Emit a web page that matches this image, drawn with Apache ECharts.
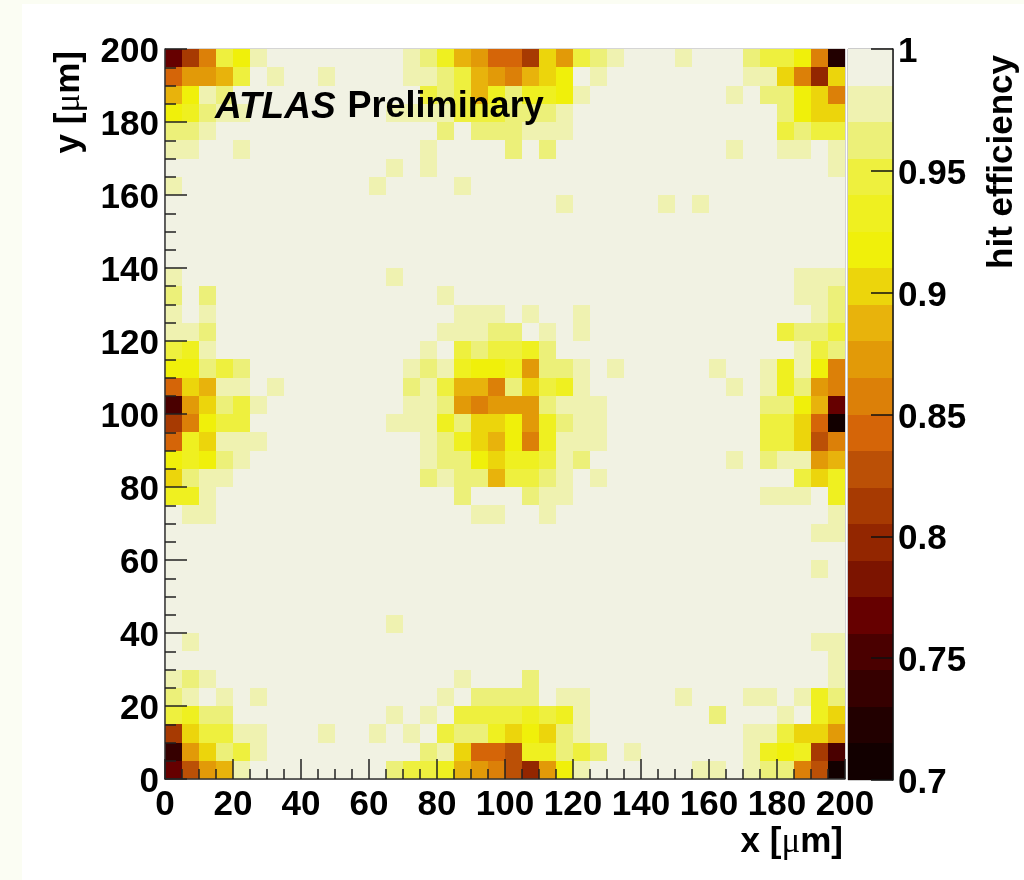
<!DOCTYPE html>
<html><head><meta charset="utf-8">
<style>html,body{margin:0;padding:0;background:#fff}#c{width:1024px;height:880px}</style>
<script src="https://cdn.jsdelivr.net/npm/echarts@6/dist/echarts.min.js"></script>
</head><body><div id="c"></div>
<script>
// Hit efficiency in percent, one array per 5 um row, named by lower y edge; x runs 0..200 in 5 um bins.
const y195=[77,81,86,95,92,98,99,99,99,99,99,99,99,99,98,96,93,89,87,84,84,81,90,87,95,96,98,99,99,99,98,99,99,99,96,95,95,92,86,72];
const y190=[84,87,87,89,95,99,98,99,99,98,99,99,99,99,98,98,96,95,89,87,86,89,90,92,99,98,99,99,99,99,99,99,99,99,98,98,90,86,80,90];
const y185=[89,92,98,96,99,99,99,99,99,99,99,99,99,99,99,95,96,95,89,93,96,93,93,92,98,99,99,99,99,99,99,99,99,98,99,96,96,92,90,86];
const y180=[92,93,96,98,98,99,99,99,99,99,99,99,99,98,98,98,98,95,95,95,96,96,96,98,99,99,99,99,99,99,99,99,99,99,99,99,96,92,90,90];
const y175=[96,96,98,99,99,99,99,99,99,99,99,99,99,99,99,99,96,99,96,96,96,98,98,98,99,99,99,99,99,99,99,99,99,99,99,99,95,96,95,95];
const y170=[98,98,99,99,98,99,99,99,99,99,99,99,99,99,99,98,99,99,99,99,96,99,96,99,99,99,99,99,99,99,99,99,99,98,99,99,98,98,99,98];
const y165=[99,99,99,99,99,99,99,99,99,99,99,99,99,98,99,98,99,99,99,99,99,99,99,99,99,99,99,99,99,99,99,99,99,99,99,99,99,99,99,98];
const y160=[98,99,99,99,99,99,99,99,99,99,99,99,98,99,99,99,99,98,99,99,99,99,99,99,99,99,99,99,99,99,99,99,99,99,99,99,99,99,99,99];
const y155=[99,99,99,99,99,99,99,99,99,99,99,99,99,99,99,99,99,99,99,99,99,99,99,98,99,99,99,99,99,98,99,98,99,99,99,99,99,99,99,99];
const y150=[99,99,99,99,99,99,99,99,99,99,99,99,99,99,99,99,99,99,99,99,99,99,99,99,99,99,99,99,99,99,99,99,99,99,99,99,99,99,99,99];
const y145=[99,99,99,99,99,99,99,99,99,99,99,99,99,99,99,99,99,99,99,99,99,99,99,99,99,99,99,99,99,99,99,99,99,99,99,99,99,99,99,99];
const y140=[99,99,99,99,99,99,99,99,99,99,99,99,99,99,99,99,99,99,99,99,99,99,99,99,99,99,99,99,99,99,99,99,99,99,99,99,99,99,99,99];
const y135=[98,99,99,99,99,99,99,99,99,99,99,99,99,98,99,99,99,99,99,99,99,99,99,99,99,99,99,99,99,99,99,99,99,99,99,99,99,98,98,98];
const y130=[96,99,96,99,99,99,99,99,99,99,99,99,99,99,99,99,98,99,99,99,99,99,99,99,99,99,99,99,99,99,99,99,99,99,99,99,99,98,98,96];
const y125=[98,99,98,99,99,99,99,99,99,99,99,99,99,99,99,99,99,98,98,98,99,98,99,99,98,99,99,99,99,99,99,99,99,99,99,99,99,99,98,96];
const y120=[98,98,96,99,99,99,99,99,99,99,99,99,99,99,99,99,98,98,98,96,96,99,98,99,98,99,99,99,99,99,99,99,99,99,99,99,95,96,96,95];
const y115=[95,93,98,99,99,99,99,99,99,99,99,99,99,99,99,98,99,95,96,95,95,93,96,99,99,99,99,99,99,99,99,99,99,99,99,99,99,98,95,96];
const y110=[92,92,96,95,96,99,99,99,99,99,99,99,99,99,98,96,98,93,92,92,93,87,96,96,98,99,98,99,99,99,99,99,98,99,99,98,93,98,92,86];
const y105=[84,90,89,98,98,99,98,99,99,99,99,99,99,99,96,98,95,89,89,86,96,90,95,93,98,99,99,99,99,99,99,99,99,98,99,98,93,96,87,86];
const y100=[75,87,90,96,95,98,99,99,99,99,99,99,99,99,98,98,96,87,86,87,87,87,96,98,98,98,99,99,99,99,99,99,99,99,99,96,96,92,89,77];
const y95=[81,86,92,95,95,99,99,99,99,99,99,99,99,98,98,98,93,96,90,90,92,87,93,96,98,98,99,99,99,99,99,99,99,99,99,95,95,90,84,71];
const y90=[84,93,90,98,98,98,99,99,99,99,99,99,99,99,99,98,96,93,90,89,92,86,93,98,98,98,99,99,99,99,99,99,99,99,99,95,95,90,83,86];
const y85=[92,93,92,96,98,99,99,99,99,99,99,99,99,99,99,98,96,96,92,90,93,93,95,98,96,99,99,99,99,99,99,99,99,98,99,96,98,98,87,89];
const y80=[90,96,98,98,99,99,99,99,99,99,99,99,99,99,99,96,98,96,96,89,95,95,96,98,99,98,99,99,99,99,99,99,99,99,99,99,99,95,90,93];
const y75=[93,93,98,99,99,99,99,99,99,99,99,99,99,99,99,99,99,96,99,99,99,96,98,98,99,99,99,99,99,99,99,99,99,99,99,98,98,98,99,93];
const y70=[99,98,98,99,99,99,99,99,99,99,99,99,99,99,99,99,99,99,98,98,99,99,98,99,99,99,99,99,99,99,99,99,99,99,99,99,99,99,99,98];
const y65=[99,99,99,99,99,99,99,99,99,99,99,99,99,99,99,99,99,99,99,99,99,99,99,99,99,99,99,99,99,99,99,99,99,99,99,99,99,99,98,98];
const y60=[99,99,99,99,99,99,99,99,99,99,99,99,99,99,99,99,99,99,99,99,99,99,99,99,99,99,99,99,99,99,99,99,99,99,99,99,99,99,99,99];
const y55=[99,99,99,99,99,99,99,99,99,99,99,99,99,99,99,99,99,99,99,99,99,99,99,99,99,99,99,99,99,99,99,99,99,99,99,99,99,99,98,99];
const y50=[99,99,99,99,99,99,99,99,99,99,99,99,99,99,99,99,99,99,99,99,99,99,99,99,99,99,99,99,99,99,99,99,99,99,99,99,99,99,99,99];
const y45=[99,99,99,99,99,99,99,99,99,99,99,99,99,99,99,99,99,99,99,99,99,99,99,99,99,99,99,99,99,99,99,99,99,99,99,99,99,99,99,99];
const y40=[99,99,99,99,99,99,99,99,99,99,99,99,99,98,99,99,99,99,99,99,99,99,99,99,99,99,99,99,99,99,99,99,99,99,99,99,99,99,99,99];
const y35=[99,98,99,99,99,99,99,99,99,99,99,99,99,99,99,99,99,99,99,99,99,99,99,99,99,99,99,99,99,99,99,99,99,99,99,99,99,99,98,98];
const y30=[99,99,99,99,99,99,99,99,99,99,99,99,99,99,99,99,99,99,99,99,99,99,99,99,99,99,99,99,99,99,99,99,99,99,99,99,99,99,99,98];
const y25=[98,96,98,99,99,99,99,99,99,99,99,99,99,99,99,99,99,98,99,99,99,96,99,99,99,99,99,99,99,99,99,99,99,99,99,99,99,99,99,98];
const y20=[96,98,99,98,99,98,99,99,99,99,99,99,99,99,99,99,98,99,96,96,96,96,99,98,98,99,99,99,99,99,98,99,99,99,98,98,99,98,93,96];
const y15=[95,93,96,96,99,99,99,99,99,99,99,99,99,98,99,98,99,95,95,95,95,93,95,93,98,99,99,99,99,99,99,99,96,99,99,99,98,99,93,90];
const y10=[81,90,95,95,98,98,99,99,99,98,99,99,98,99,98,99,95,96,96,93,90,92,90,96,98,99,99,99,99,99,99,99,99,99,98,98,95,90,90,87];
const y5=[74,87,90,96,95,98,99,99,99,99,99,99,99,99,99,96,98,90,84,84,83,93,93,96,95,96,99,98,99,99,99,99,99,99,98,93,92,93,81,75];
const y0=[77,83,87,89,98,99,99,99,99,99,99,99,99,96,95,95,93,89,87,86,83,80,87,92,98,99,99,99,99,99,99,98,98,99,98,96,96,86,83,71];

const rowsByLowerEdge=[[195,y195],[190,y190],[185,y185],[180,y180],[175,y175],[170,y170],[165,y165],[160,y160],[155,y155],[150,y150],
[145,y145],[140,y140],[135,y135],[130,y130],[125,y125],[120,y120],[115,y115],[110,y110],[105,y105],[100,y100],
[95,y95],[90,y90],[85,y85],[80,y80],[75,y75],[70,y70],[65,y65],[60,y60],[55,y55],[50,y50],
[45,y45],[40,y40],[35,y35],[30,y30],[25,y25],[20,y20],[15,y15],[10,y10],[5,y5],[0,y0]];

const binSize=5;
const scaleMin=0.7, scaleMax=1, bandStep=0.015;
// Colour bands, from the 0.985-1 band down to the 0.7-0.715 band
const bandColors=['#f1f2e3','#eff2b0','#ecf079','#eef03e','#eff020','#f0f00a','#ecd50c','#e8b30c','#e29a08','#dc8008','#d56508','#bb5006','#a73a02','#932600','#7c1400','#660000','#4a0000','#360000','#220000','#120000'];

const cellData=[];
rowsByLowerEdge.forEach(([yLow,row])=>row.forEach((pct,i)=>cellData.push([i*binSize,yLow,pct/100])));
const bandData=bandColors.map((c,i)=>[scaleMax-bandStep*(i+1),scaleMax-bandStep*i,i]);
const colorFor=v=>bandColors[Math.min(bandColors.length-1,Math.floor((scaleMax-v)/bandStep+1e-9))];

const FONT='"Liberation Sans",Arial,sans-serif';
const labelStyle={fontFamily:FONT,fontWeight:'bold',fontSize:35,color:'#000'};
const unitRich={b:{fontFamily:FONT,fontWeight:'bold',fontSize:35,color:'#000'},m:{fontFamily:'"Liberation Serif",serif',fontWeight:'normal',fontSize:35,color:'#000'}};
const tickRich={a:{fontFamily:FONT,fontWeight:'bold',fontSize:35,color:'#000',padding:[7,0,0,0]}};

const chart=echarts.init(document.getElementById('c'),null,{renderer:'canvas',width:1024,height:880});
chart.setOption({
  animation:false,
  backgroundColor:'#fbfdf3',
  graphic:[
    {type:'rect',z:-10,silent:true,shape:{x:22,y:4,width:1002,height:876},style:{fill:'#ffffff'}},
    {type:'text',left:215,top:89,z:100,silent:true,style:{rich:{i:{fontFamily:FONT,fontStyle:'italic',fontWeight:'bold',fontSize:37,fill:'#000',padding:[0,12,0,0]},n:{fontFamily:FONT,fontWeight:'bold',fontSize:36,fill:'#000'}},text:'{i|ATLAS}{n|Preliminary}'}}
  ],
  grid:[
    {left:165,top:49,width:680,height:730,outerBoundsMode:'none',containLabel:false,show:true,borderColor:'#aaaaaa',borderWidth:1,backgroundColor:'transparent'},
    {left:848,top:49,width:45,height:731,outerBoundsMode:'none',containLabel:false,show:true,borderColor:'#999999',borderWidth:1,backgroundColor:'transparent'}
  ],
  xAxis:[
    {type:'value',gridIndex:0,min:0,max:200,interval:20,z:10,
     name:'{b|x [}{m|μ}{b|m]}',nameLocation:'end',nameGap:0,
     nameTextStyle:{align:'right',verticalAlign:'top',padding:[46,2,0,0],rich:unitRich},
     axisLine:{show:true,onZero:false,lineStyle:{color:'#333',width:1.5}},
     axisTick:{show:true,inside:true,length:20,lineStyle:{color:'#222',width:1.5}},
     minorTick:{show:true,splitNumber:4,length:10,lineStyle:{color:'#222',width:1.5}},
     splitLine:{show:false},
     axisLabel:Object.assign({margin:9,showMinLabel:true,showMaxLabel:true},labelStyle)},
    {type:'value',gridIndex:1,min:0,max:1,show:false}
  ],
  yAxis:[
    {type:'value',gridIndex:0,min:0,max:200,interval:20,z:10,
     name:'{b|y [}{m|μ}{b|m]}',nameLocation:'end',nameGap:0,nameRotate:90,
     nameTextStyle:{align:'right',verticalAlign:'bottom',padding:[0,2,78,0],rich:unitRich},
     axisLine:{show:true,onZero:false,lineStyle:{color:'#333',width:1.5}},
     axisTick:{show:true,inside:true,length:22,lineStyle:{color:'#222',width:1.5}},
     minorTick:{show:true,splitNumber:4,length:11,lineStyle:{color:'#222',width:1.5}},
     splitLine:{show:false},
     axisLabel:{margin:6,showMinLabel:true,showMaxLabel:true,formatter:'{a|{value}}',rich:tickRich}},
    {type:'value',gridIndex:1,position:'right',min:0.7,max:1,interval:0.05,z:10,
     name:'{b|hit efficiency}',nameLocation:'end',nameGap:0,nameRotate:90,
     nameTextStyle:{align:'right',verticalAlign:'top',padding:[92,6,0,0],rich:unitRich},
     axisLine:{show:true,onZero:false,lineStyle:{color:'#111',width:1.5}},
     axisTick:{show:true,inside:true,length:22,lineStyle:{color:'#111',width:1.5}},
     minorTick:{show:false},splitLine:{show:false},
     axisLabel:{margin:5,showMinLabel:true,showMaxLabel:true,formatter:'{a|{value}}',rich:tickRich}}
  ],
  series:[
    {type:'custom',name:'hit efficiency',xAxisIndex:0,yAxisIndex:0,z:1,clip:true,silent:true,
     encode:{x:0,y:1},data:cellData,
     renderItem(params,api){
       const a=api.coord([api.value(0),api.value(1)+binSize]);
       const b=api.coord([api.value(0)+binSize,api.value(1)]);
       const x0=Math.round(a[0]),y0=Math.round(a[1]),x1=Math.round(b[0]),y1=Math.round(b[1]);
       return {type:'rect',shape:{x:x0,y:y0,width:x1-x0,height:y1-y0},style:{fill:colorFor(api.value(2))}};
     }},
    {type:'custom',name:'scale',xAxisIndex:1,yAxisIndex:1,z:1,clip:true,silent:true,
     encode:{y:[0,1]},data:bandData,
     renderItem(params,api){
       const a=api.coord([0,api.value(1)]);
       const b=api.coord([1,api.value(0)]);
       const x0=Math.round(a[0]),y0=Math.round(a[1]),x1=Math.round(b[0]),y1=Math.round(b[1]);
       return {type:'rect',shape:{x:x0,y:y0,width:x1-x0,height:y1-y0},style:{fill:bandColors[api.value(2)]}};
     }}
  ]
});
</script></body></html>
